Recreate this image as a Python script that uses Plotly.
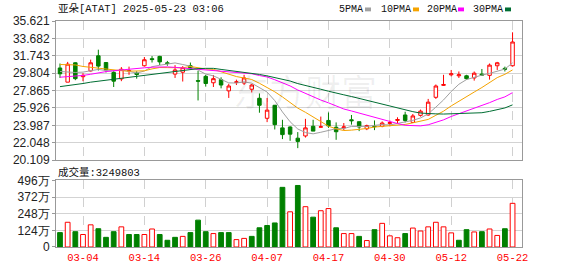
import plotly.graph_objects as go

# ---------------- data ----------------
dates = ["02-27","02-28","03-03","03-04","03-05","03-06","03-07","03-10","03-11","03-12",
         "03-13","03-14","03-17","03-18","03-19","03-20","03-21","03-24","03-25","03-26",
         "03-27","03-28","03-31","04-01","04-02","04-03","04-04","04-07","04-08","04-09",
         "04-10","04-11","04-14","04-15","04-16","04-17","04-21","04-22","04-23","04-24",
         "04-25","04-28","04-29","04-30","05-01","05-02","05-05","05-06","05-07","05-08",
         "05-09","05-12","05-13","05-14","05-15","05-16","05-19","05-20","05-21","05-22"]

opens = [30.38,28.80,30.96,29.41,30.05,31.74,30.99,29.88,29.16,30.05,
         29.80,30.63,31.42,31.67,30.96,29.70,29.91,30.63,28.97,29.45,
         28.73,29.08,27.83,28.76,28.70,28.01,27.00,24.77,26.22,23.70,
         23.80,22.55,22.80,23.88,23.78,24.53,23.77,23.70,24.60,24.39,
         23.60,23.88,23.88,24.20,24.53,25.14,24.31,25.10,25.14,27.11,
         28.44,29.62,29.51,29.51,29.27,29.70,29.56,30.63,30.34,30.63]
highs = [30.88,31.06,31.02,29.80,31.31,32.42,31.02,30.10,30.48,30.53,
         30.02,31.60,31.71,31.74,31.17,30.70,30.59,30.99,30.05,29.62,
         29.60,29.34,28.62,29.08,29.62,28.62,27.54,27.04,26.25,24.60,
         23.88,23.23,24.71,24.60,24.96,25.42,24.31,24.24,25.14,24.40,
         24.06,24.53,24.42,24.53,24.88,25.50,25.25,25.74,26.93,28.54,
         29.62,30.16,29.99,29.62,29.99,30.27,30.88,31.06,30.53,34.36]
lows = [29.27,28.80,29.02,28.91,29.99,30.10,29.88,28.26,28.91,29.62,
        29.19,30.53,30.99,30.70,30.63,29.27,28.87,30.24,26.76,28.30,
        28.26,28.11,27.04,28.48,28.48,27.65,25.39,24.34,23.52,22.45,
        22.26,21.44,22.62,23.34,23.76,23.70,22.37,23.45,24.06,23.34,
        23.45,23.45,23.77,23.88,24.17,24.31,24.24,24.96,25.06,26.93,
        28.37,29.45,29.27,29.08,28.97,29.56,29.08,30.16,29.99,30.53]
closes = [29.73,30.81,29.19,29.56,30.96,30.59,30.16,28.91,30.24,30.10,
          29.66,31.30,31.32,31.06,30.88,30.16,30.42,30.36,28.91,28.65,
          29.19,28.48,28.37,28.83,29.27,28.48,26.22,25.68,24.06,22.95,
          23.00,22.19,23.70,23.34,23.82,23.92,23.27,23.80,24.50,23.80,
          23.96,23.84,24.24,24.28,24.63,24.53,25.03,25.57,26.57,28.37,
          28.54,29.73,29.62,29.19,29.80,29.59,30.70,30.96,30.24,33.28]
# volume in 万 shares
volumes = [107,184,114,93,165,136,72,114,150,93,
           93,93,134,93,50,72,79,107,200,114,
           100,107,107,55,64,79,143,160,179,444,
           262,458,300,222,270,286,143,100,100,79,
           48,129,176,83,69,100,141,119,150,184,
           150,105,50,129,112,114,134,86,136,325]

ma5_head = [29.99, 29.90, 29.88, 29.92]
ma10_head = [30.77, 30.77, 30.72, 30.55, 30.45, 30.34, 30.22, 30.12, 30.08]
ma20_head = [29.35, 29.40, 29.47, 29.55, 29.68, 29.85, 29.98, 30.08, 30.18, 30.26,
             30.32, 30.40, 30.47, 30.50, 30.50, 30.45, 30.38, 30.30, 30.22]
ma30_head = [28.30, 28.40, 28.54, 28.65, 28.80, 28.91, 29.05, 29.16, 29.27, 29.37,
             29.45, 29.56, 29.66, 29.77, 29.88, 30.02, 30.16, 30.27, 30.31, 30.34,
             30.34, 30.22, 30.12, 30.02, 29.92, 29.80, 29.66, 29.50, 29.33]

price_ticks = [20.109, 22.048, 23.987, 25.926, 27.865, 29.804, 31.743, 33.682, 35.621]
vol_ticks = [0, 124, 248, 372, 496]
vol_ticktext = ["0", "124万", "248万", "372万", "496万"]
x_label_dates = ["03-04", "03-14", "03-26", "04-07", "04-17", "04-30", "05-12", "05-22"]

title_text = "亚朵[ATAT] 2025-05-23 03:06"
vol_title = "成交量:3249803"
legend_names = ["5PMA", "10PMA", "20PMA", "30PMA"]

# ---------------- derived ----------------
n = len(dates)
idx = list(range(n))


def moving_avg(period, head):
    out = []
    for i in range(n):
        if i >= period - 1:
            out.append(sum(closes[i - period + 1:i + 1]) / period)
        else:
            out.append(head[i])
    return out


ma5 = moving_avg(5, ma5_head)
ma10 = moving_avg(10, ma10_head)
ma20 = moving_avg(20, ma20_head)
ma30 = moving_avg(30, ma30_head)

vol_up = [(closes[i] >= closes[i - 1]) if i > 0 else (closes[0] >= opens[0]) for i in range(n)]

RED = "#FF0000"
GREEN = "#008000"
MA_COLORS = ["#A0A0A0", "#F5A300", "#FF00FF", "#006E33"]

x_tickvals = [dates.index(d) for d in x_label_dates]
xrange = [-0.52, 60.23]

# ---------------- figure ----------------
fig = go.Figure()

fig.add_trace(go.Candlestick(
    x=idx, open=opens, high=highs, low=lows, close=closes,
    increasing=dict(line=dict(color=RED, width=1), fillcolor="#FFFFFF"),
    decreasing=dict(line=dict(color=GREEN, width=1), fillcolor=GREEN),
    whiskerwidth=0, hoverinfo="skip", xaxis="x", yaxis="y",
))

for ma, col in zip([ma5, ma10, ma20, ma30], MA_COLORS):
    fig.add_trace(go.Scatter(x=idx, y=ma, mode="lines", line=dict(color=col, width=1),
                             hoverinfo="skip", xaxis="x", yaxis="y"))

fig.add_trace(go.Bar(
    x=idx, y=volumes, width=0.62,
    marker=dict(color=["#FFFFFF" if u else GREEN for u in vol_up],
                line=dict(color=[RED if u else GREEN for u in vol_up], width=1)),
    hoverinfo="skip", xaxis="x2", yaxis="y2",
))

W, H = 578, 276
L, R, T, B = 56, 56, 21, 21
PW, PH = W - L - R, H - T - B


def px(xp):
    return (xp - L) / PW


def py(yp):
    return (H - B - yp) / PH


grid_h = "#D3D3D3"
grid_v = "#D0D0D0"
border = "#999999"
tickfont = dict(family="Liberation Sans, Arial", size=12, color="#222222")

common_x = dict(range=xrange, tickmode="array", tickvals=x_tickvals, showgrid=True,
                gridcolor=grid_v, griddash="dash", gridwidth=1, showline=True, mirror=True,
                linecolor=border, linewidth=1, zeroline=False, fixedrange=True)

fig.update_layout(
    width=W, height=H,
    margin=dict(l=L, r=R, t=T, b=B, pad=0),
    paper_bgcolor="#FFFFFF", plot_bgcolor="#FFFFFF",
    showlegend=False, boxgap=0.35, bargap=0.3,
    font=dict(family="Liberation Sans, Arial", size=12, color="#222222"),
    xaxis=dict(**common_x, anchor="y", domain=[0, 1], showticklabels=False,
               rangeslider=dict(visible=False)),
    xaxis2=dict(**common_x, anchor="y2", domain=[0, 1], showticklabels=True,
                ticktext=x_label_dates, ticks="",
                tickfont=dict(family="Liberation Mono, monospace", size=10.5, color=RED)),
    yaxis=dict(domain=[py(165), 1], range=[price_ticks[0], price_ticks[-1]],
               tickmode="array", tickvals=price_ticks,
               ticktext=[f"{v:.3f}" for v in price_ticks],
               showgrid=True, gridcolor=grid_h, showline=True, mirror=True,
               linecolor=border, ticks="outside", ticklen=3, tickcolor=border,
               zeroline=False, tickfont=tickfont, fixedrange=True),
    yaxis2=dict(domain=[0, py(186)], range=[0, 496], tickmode="array",
                tickvals=vol_ticks, ticktext=vol_ticktext,
                showgrid=True, gridcolor=grid_h, showline=True, mirror=True,
                linecolor=border, ticks="outside", ticklen=3, tickcolor=border,
                zeroline=False, tickfont=tickfont, fixedrange=True),
)

mono = "Liberation Mono, Noto Sans CJK SC, monospace"
annotations = [
    dict(text=title_text, x=px(56), y=py(9), xref="paper", yref="paper",
         xanchor="left", yanchor="middle", showarrow=False,
         font=dict(family=mono, size=10.5, color="#111111")),
    dict(text=vol_title, x=px(56), y=py(177.5), xref="paper", yref="paper",
         xanchor="left", yanchor="middle", showarrow=False,
         font=dict(family=mono, size=10.5, color="#111111")),
    dict(text="东方财富", x=px(305), y=py(92), xref="paper", yref="paper",
         xanchor="center", yanchor="middle", showarrow=False,
         font=dict(family="Noto Sans CJK SC", size=36, color="rgba(0,0,0,0.06)")),
]
legend_text_x = [337, 379, 425, 471]
legend_sq_x = [365, 413, 458, 505]
shapes = []
for name, tx, sx, col in zip(legend_names, legend_text_x, legend_sq_x, MA_COLORS):
    annotations.append(dict(text=name, x=px(tx), y=py(9), xref="paper", yref="paper",
                            xanchor="left", yanchor="middle", showarrow=False,
                            font=dict(family=mono, size=10, color="#111111")))
    shapes.append(dict(type="rect", xref="paper", yref="paper",
                       x0=px(sx), x1=px(sx + 6), y0=py(11), y1=py(7),
                       fillcolor=col, line=dict(width=0)))

fig.update_layout(annotations=annotations, shapes=shapes)

fig.write_html("out.html", config={"displayModeBar": False, "staticPlot": True})
